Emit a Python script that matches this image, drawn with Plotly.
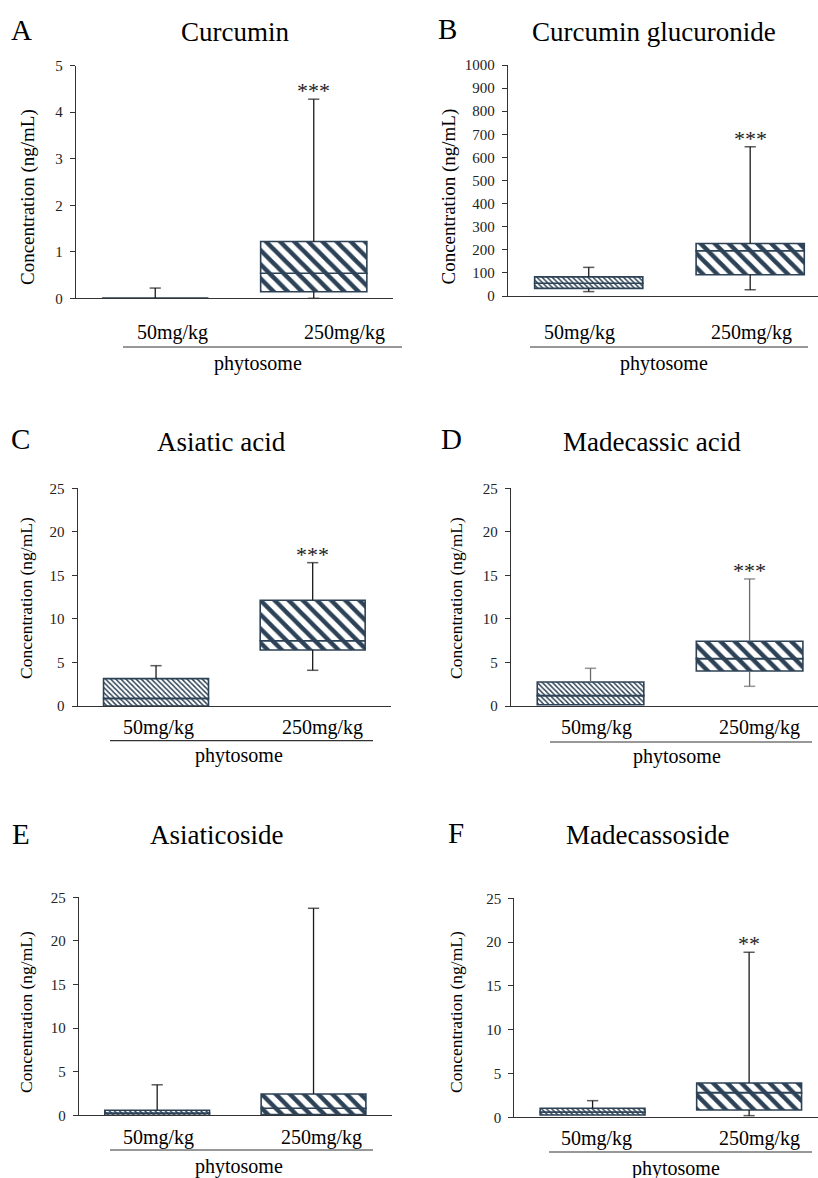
import plotly.graph_objects as go

# ---------------- data ----------------
letters = ["A", "B", "C", "D", "E", "F"]
titles = ["Curcumin", "Curcumin glucuronide", "Asiatic acid",
          "Madecassic acid", "Asiaticoside", "Madecassoside"]
groups = ["50mg/kg", "250mg/kg"]
group_title = "phytosome"
y_label = "Concentration (ng/mL)"
y_top = [5, 1000, 25, 25, 25, 25]
y_step = [1, 100, 5, 5, 5, 5]

min_50 = [0, 19, 0, 0.15, 0, 0.26]
q1_50 = [0, 33, 0, 0.15, 0, 0.26]
med_50 = [0, 55, 0.88, 1.19, 0.25, 0.6]
q3_50 = [0, 83, 3.14, 2.76, 0.58, 1.03]
max_50 = [0.22, 124, 4.63, 4.33, 3.5, 1.9]

min_250 = [0, 27, 4.1, 2.26, 0.08, 0.19]
q1_250 = [0.14, 92, 6.43, 4.02, 0.08, 0.84]
med_250 = [0.54, 196, 7.5, 5.44, 0.8, 2.82]
q3_250 = [1.22, 227, 12.14, 7.43, 2.45, 3.92]
max_250 = [4.28, 646, 16.46, 14.59, 23.74, 18.84]

significance = ["***", "***", "***", "***", "", "**"]

# ---------------- layout (pixel geometry) ----------------
W, H = 818, 1178
FONT = "Liberation Serif"
NAVY = "#2d4256"

# x0, x1, ytop, ybottom, x range
geom = [
    (76, 393, 65.7, 298.3, [-0.5, 1.5]),
    (508, 818, 65, 296, [-0.5, 1.42]),
    (77.7, 391, 488.3, 706, [-0.5, 1.5]),
    (511, 818, 488.3, 706, [-0.5, 1.43]),
    (79, 391.7, 897.3, 1115.3, [-0.5, 1.5]),
    (514.3, 818, 898.3, 1117.3, [-0.5, 1.44]),
]
letter_pos = [(21.5, 30), (447.5, 29), (20, 438.5), (451.5, 439), (21, 834), (455.5, 832.5)]
title_pos = [(235, 32), (654, 32), (222, 441.7), (652, 441.7), (217, 835), (647, 835)]
ytitle_pos = [(28, 197), (448.5, 197), (26, 598), (456, 598), (26, 1012), (456, 1012)]
ytitle_size = [19, 19, 17.5, 17.5, 17.5, 17.5]
cat_pos = [((172, 344), 333), ((579, 751), 333), ((158, 322), 728),
           ((596.5, 759), 728), ((158, 321), 1137), ((596, 759), 1138)]
line_pos = [(123, 402, 347), (530, 808, 347), (110, 373, 740.7),
            (550, 812, 742), (110, 373, 1150), (549, 812, 1152)]
phyto_pos = [(258, 363), (664, 363), (239, 755.7), (677, 756.7), (239, 1166.7), (676, 1168)]
whisker_color = ["#1a1a1a", "#1a1a1a", "#1a1a1a", "#6b6b6b", "#1a1a1a", "#1a1a1a"]


def px(x):
    return x / W


def py(y):
    return 1 - y / H


fig = go.Figure()
annotations = []
shapes = []
layout_axes = {}

for i in range(6):
    n = "" if i == 0 else str(i + 1)
    xa, ya = "x" + n, "y" + n
    x0, x1, yt, yb, xr = geom[i]
    layout_axes["xaxis" + n] = dict(
        domain=[px(x0), px(x1)], range=xr, anchor=ya,
        showline=True, linecolor="#333333", linewidth=1.3,
        showticklabels=False, ticks="", showgrid=False, zeroline=False,
        fixedrange=True, automargin=False,
    )
    layout_axes["yaxis" + n] = dict(
        domain=[py(yb), py(yt)], range=[0, y_top[i]], anchor=xa,
        dtick=y_step[i], tick0=0,
        showline=True, linecolor="#333333", linewidth=1.3,
        ticks="outside", ticklen=5, tickwidth=1.3, tickcolor="#333333",
        ticklabelstandoff=4,
        tickfont=dict(family=FONT, size=15, color="#222222"),
        showgrid=False, zeroline=False, fixedrange=True, automargin=False,
    )

    q1 = [q1_50[i], q1_250[i]]
    med = [med_50[i], med_250[i]]
    q3 = [q3_50[i], q3_250[i]]
    mn = [min_50[i], min_250[i]]
    mx = [max_50[i], max_250[i]]
    pos = [0, 1]

    pattern = dict(shape="\\", fgcolor=NAVY, bgcolor="white", fgopacity=1,
                   fillmode="overlay", size=[3.6, 10], solidity=[0.4, 0.45])
    for lo, hi in ((q1, med), (med, q3)):
        fig.add_trace(go.Bar(
            x=pos, y=[hi[k] - lo[k] for k in range(2)], base=lo, width=0.67,
            marker=dict(color="white", pattern=pattern,
                        line=dict(color=NAVY, width=1.6)),
            xaxis=xa, yaxis=ya, showlegend=False, hoverinfo="skip",
        ))
    for k in range(2):
        segs = [(q3[k], mx[k])]
        if mn[k] < q1[k]:
            segs.append((q1[k], mn[k]))
        for a, b in segs:
            fig.add_trace(go.Scatter(
                x=[pos[k], pos[k]], y=[a, b], mode="lines+markers",
                line=dict(color=whisker_color[i], width=1.3),
                marker=dict(symbol="line-ew", size=[0, 8],
                            line=dict(color=whisker_color[i], width=1.5)),
                xaxis=xa, yaxis=ya, showlegend=False, hoverinfo="skip",
                cliponaxis=False,
            ))
    if significance[i]:
        annotations.append(dict(
            x=1, y=max_250[i], xref=xa, yref=ya, text=significance[i],
            showarrow=False, yanchor="bottom", yshift=-6,
            font=dict(family=FONT, size=22, color="#222222"),
        ))

    lx, ly = letter_pos[i]
    annotations.append(dict(x=px(lx), y=py(ly), xref="paper", yref="paper",
                            text=letters[i], showarrow=False,
                            xanchor="center", yanchor="middle",
                            font=dict(family=FONT, size=29, color="black")))
    tx, ty = title_pos[i]
    annotations.append(dict(x=px(tx), y=py(ty), xref="paper", yref="paper",
                            text=titles[i], showarrow=False,
                            xanchor="center", yanchor="middle",
                            font=dict(family=FONT, size=27, color="black")))
    ax_, ay_ = ytitle_pos[i]
    annotations.append(dict(x=px(ax_), y=py(ay_), xref="paper", yref="paper",
                            text=y_label, showarrow=False, textangle=-90,
                            xanchor="center", yanchor="middle",
                            font=dict(family=FONT, size=ytitle_size[i], color="black")))
    (cx0, cx1), cy = cat_pos[i]
    for k, cx in enumerate((cx0, cx1)):
        annotations.append(dict(x=px(cx), y=py(cy), xref="paper", yref="paper",
                                text=groups[k], showarrow=False,
                                xanchor="center", yanchor="middle",
                                font=dict(family=FONT, size=20, color="black")))
    lx0, lx1, lyy = line_pos[i]
    shapes.append(dict(type="line", xref="paper", yref="paper",
                       x0=px(lx0), x1=px(lx1), y0=py(lyy), y1=py(lyy),
                       line=dict(color="#333333", width=1.2)))
    phx, phy = phyto_pos[i]
    annotations.append(dict(x=px(phx), y=py(phy), xref="paper", yref="paper",
                            text=group_title, showarrow=False,
                            xanchor="center", yanchor="middle",
                            font=dict(family=FONT, size=20, color="black")))

fig.update_layout(
    width=W, height=H, autosize=False,
    margin=dict(l=0, r=0, t=0, b=0, pad=0, autoexpand=False),
    paper_bgcolor="white", plot_bgcolor="white",
    barmode="overlay", showlegend=False,
    font=dict(family=FONT),
    annotations=annotations, shapes=shapes,
    **layout_axes,
)

fig.write_html(
    "out.html",
    config={"displayModeBar": False, "responsive": False},
    post_script="document.body.style.margin='0';document.body.style.padding='0';"
                "document.documentElement.style.overflow='hidden';",
)
